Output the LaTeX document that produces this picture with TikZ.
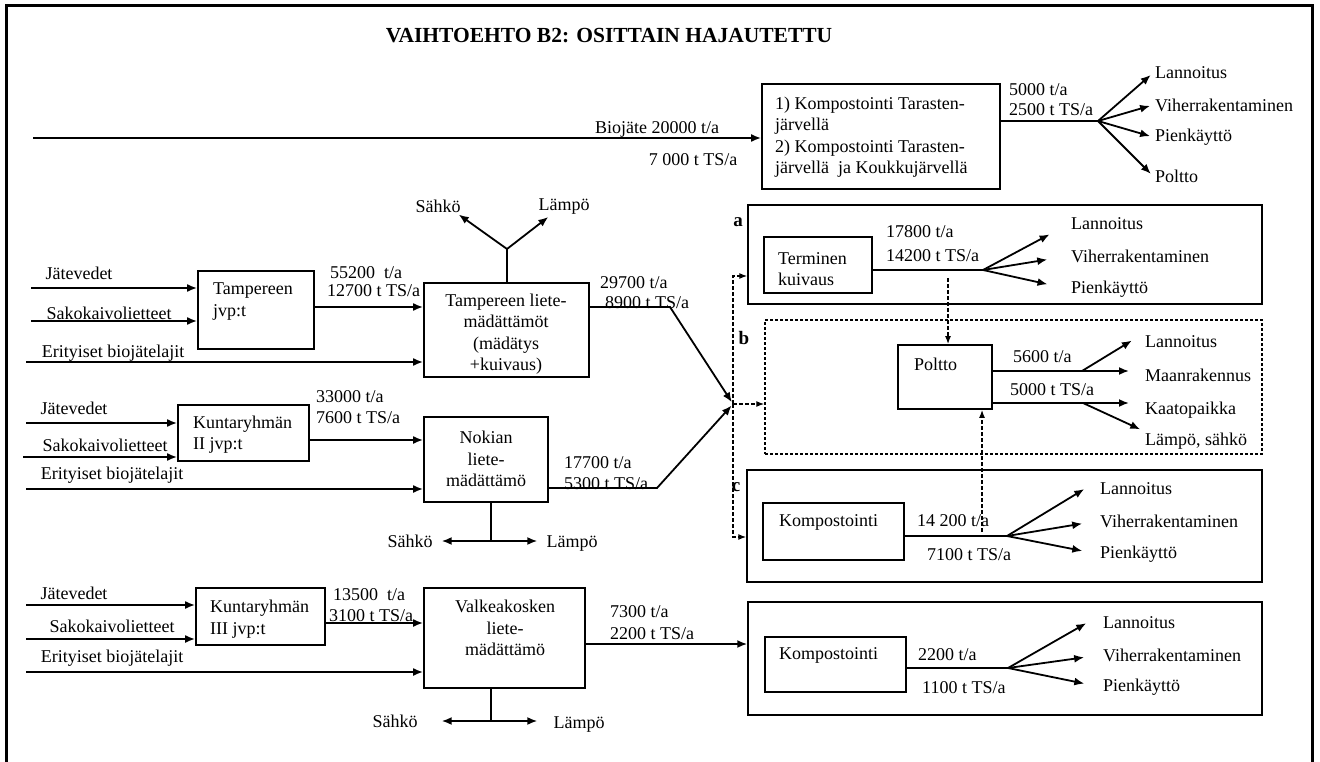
\documentclass[tikz,border=0pt]{standalone}
\usepackage{fontspec}
\setmainfont{Liberation Serif}
\usetikzlibrary{arrows.meta,calc,positioning}

\tikzset{
  box/.style={draw,line width=1.8pt,inner sep=0pt},
  grp/.style={draw,line width=1.5pt,inner sep=0pt},
  txt/.style={inner sep=2pt,font=\fontsize{18}{21.5}\selectfont,align=left},
  ctxt/.style={txt,align=center},
  tag/.style={inner sep=0pt,font=\fontsize{19}{22}\selectfont\bfseries},
  pipe/.style={line width=1.8pt},
  flow/.style={pipe,-{Latex[length=10pt,width=8pt]}},
  both/.style={pipe,{Latex[length=10pt,width=8pt]}-{Latex[length=10pt,width=8pt]}},
  dflow/.style={line width=1.3pt,dash pattern=on 4pt off 2pt,-{Latex[length=8pt,width=6pt]}}
}

\begin{document}
\begin{tikzpicture}[x=1pt,y=-1pt]
\useasboundingbox (0,0) rectangle (1320,762);
\draw[line width=3pt] (6,6) rectangle (1312,790);
\node[font=\fontsize{21.5}{26}\selectfont\bfseries] (title) at (609,36) {VAIHTOEHTO B2: OSITTAIN HAJAUTETTU};
% ==========================================
% biojate
\node[box,minimum width=238pt,minimum height=105pt] (komp1) at (881,136.5) {};
\node[txt,anchor=west] (komp1t) at (773,137) {1) Kompostointi Tarasten-\\järvellä\\2) Kompostointi Tarasten-\\järvellä\ \ ja Koukkujärvellä};
\coordinate (bio) at (33,138);
\draw[flow] (bio) -- (bio -| komp1.west);
\node[txt] (bio1) at (657,129) {Biojäte 20000 t/a};
\node[txt] (bio2) at (693,160) {7 000 t TS/a};
\coordinate (f1) at (1098,121);
\draw[pipe] (f1 -| komp1.east) -- (f1);
\node[txt,anchor=west] (m1a) at (1007,90) {5000 t/a};
\node[txt,anchor=west] (m1b) at (1007,110) {2500 t TS/a};
\node[txt,anchor=west] (lan1) at (1153,73) {Lannoitus};
\node[txt,anchor=west] (vih1) at (1153,105) {Viherrakentaminen};
\node[txt,anchor=west] (pie1) at (1153,137) {Pienkäyttö};
\node[txt,anchor=west] (pol1) at (1153,176) {Poltto};
\foreach \t in {lan1,vih1,pie1,pol1}
  \draw[flow,shorten >=3pt] (f1) -- (\t.west);
% ==========================================
% Tampere
\node[box,minimum width=116pt,minimum height=78pt] (tjvp) at (256,310) {};
\node[txt,anchor=west] (tjvpt) at (211,301.5) {Tampereen\\jvp:t};
\node[box,minimum width=165pt,minimum height=94pt] (tliete) at (506.5,330) {};
\node[ctxt] (tlietet) at (506,334) {Tampereen liete-\\mädättämöt\\(mädätys\\+kuivaus)};
\node[txt] (jv1) at (79,273) {Jätevedet};
\node[txt] (sk1) at (109,313) {Sakokaivolietteet};
\node[txt] (er1) at (113,353) {Erityiset biojätelajit};
\coordinate (jv1s) at (31,288);
\coordinate (sk1s) at (31,321);
\coordinate (er1s) at (26,362);
\draw[flow] (jv1s) -- (jv1s -| tjvp.west);
\draw[flow] (sk1s) -- (sk1s -| tjvp.west);
\draw[flow] (er1s) -- (er1s -| tliete.west);
\coordinate (t1o) at ([yshift=3pt]tjvp.east);
\draw[flow] (t1o) -- (t1o -| tliete.west);
\node[txt,anchor=west] (m2a) at (328,273) {55200\ \ t/a};
\node[txt,anchor=west] (m2b) at (325,291) {12700 t TS/a};
% Y on top
\coordinate (ty) at (507,249);
\draw[pipe] (tliete.north -| ty) -- (ty);
\node[txt] (sah1) at (438,206) {Sähkö};
\node[txt] (lam1) at (564,207) {Lämpö};
\draw[flow] (ty) -- ([xshift=-4pt]sah1.south east);
\draw[flow] (ty) -- ([xshift=12pt]lam1.south west);
% to junction
\coordinate (tb) at (670,307);
\coordinate (J) at (733,404);
\node[txt,anchor=west] (m3a) at (598,283) {29700 t/a};
\node[txt,anchor=west] (m3b) at (603,303) {8900 t TS/a};
\draw[flow,shorten >=2pt] (tb -| tliete.east) -- (tb) -- (J);
% ==========================================
% Nokia
\node[box,minimum width=124pt,minimum height=85pt] (nok) at (486,459.5) {};
\node[ctxt] (nokt) at (486,459) {Nokian\\liete-\\mädättämö};
\node[box,minimum width=131pt,minimum height=56pt] (k2) at (243.5,433) {};
\node[txt,anchor=west] (k2t) at (191,434.5) {Kuntaryhmän\\II jvp:t};
\node[txt] (jv2) at (74,408) {Jätevedet};
\node[txt] (sk2) at (105,445) {Sakokaivolietteet};
\node[txt] (er2) at (112,475) {Erityiset biojätelajit};
\coordinate (jv2s) at (26,423);
\coordinate (sk2s) at (23,457);
\coordinate (er2s) at (26,489);
\draw[flow] (jv2s) -- (jv2s -| k2.west);
\draw[flow] (sk2s) -- (sk2s -| k2.west);
\draw[flow] (er2s) -- (er2s -| nok.west);
\coordinate (k2o) at ([yshift=-7pt]k2.east);
\draw[flow] (k2o) -- (k2o -| nok.west);
\node[txt,anchor=west] (m4a) at (314,397) {33000 t/a};
\node[txt,anchor=west] (m4b) at (314,418) {7600 t TS/a};
\coordinate (nb) at (657,488);
\draw[flow,shorten >=2pt] (nb -| nok.east) -- (nb) -- (J);
\node[txt,anchor=west] (m5a) at (562,463) {17700 t/a};
\node[txt,anchor=west] (m5b) at (562,484) {5300 t TS/a};
\coordinate (ns) at (491,541);
\draw[pipe] (nok.south -| ns) -- (ns);
\node[txt] (sah2) at (410,541) {Sähkö};
\node[txt] (lam2) at (572,544) {Lämpö};
\draw[both,shorten <=7pt,shorten >=7pt] (sah2.east) -- (sah2.east -| lam2.west);
% ==========================================
% Valkeakoski
\node[box,minimum width=161pt,minimum height=100pt] (valk) at (504.5,638) {};
\node[ctxt] (valkt) at (505,628) {Valkeakosken\\liete-\\mädättämö};
\node[box,minimum width=129pt,minimum height=57pt] (k3) at (260.5,616.5) {};
\node[txt,anchor=west] (k3t) at (208,619) {Kuntaryhmän\\III jvp:t};
\node[txt] (jv3) at (74,593) {Jätevedet};
\node[txt] (sk3) at (112,626) {Sakokaivolietteet};
\node[txt] (er3) at (112,658) {Erityiset biojätelajit};
\coordinate (jv3s) at (26,605);
\coordinate (sk3s) at (26,639);
\coordinate (er3s) at (26,672);
\draw[flow] (jv3s) -- (jv3s -| k3.west);
\draw[flow] (sk3s) -- (sk3s -| k3.west);
\draw[flow] (er3s) -- (er3s -| valk.west);
\coordinate (k3o) at ([yshift=-6.5pt]k3.east);
\draw[flow] (k3o) -- (k3o -| valk.west);
\node[txt,anchor=west] (m6a) at (331,595) {13500\ \ t/a};
\node[txt,anchor=west] (m6b) at (327,616) {3100 t TS/a};
\coordinate (vs) at (491,721);
\draw[pipe] (valk.south -| vs) -- (vs);
\node[txt] (sah3) at (395,721) {Sähkö};
\node[txt] (lam3) at (579,725) {Lämpö};
\draw[both,shorten <=22pt,shorten >=14pt] (sah3.east) -- (sah3.east -| lam3.west);
% ==========================================
% a, b, c and the last one
\node[grp,minimum width=514pt,minimum height=99pt] (boxa) at (1005,254.5) {};
\node[grp,densely dashed,minimum width=497pt,minimum height=134pt] (boxb) at (1013.5,387) {};
\node[grp,minimum width=515pt,minimum height=112pt] (boxc) at (1004.5,526) {};
\node[grp,minimum width=514pt,minimum height=113pt] (boxd) at (1005,658.5) {};
\node[tag] (taga) at (738,222) {a};
\node[tag] (tagb) at (744,338) {b};
\node[tag] (tagc) at (736,487) {c};
\coordinate (ya) at (0,276);
\coordinate (yc) at (0,537);
\draw[dflow] (J) |- (boxa.west |- ya);%Arrow.
\draw[dflow] (J) -- (J -| boxb.west);%Arrow.
\draw[dflow] (J) |- (boxc.west |- yc);%Arrow.
% a
\node[box,minimum width=108pt,minimum height=56pt] (term) at (818,265) {};
\node[txt,anchor=west] (termt) at (776,269) {Terminen\\kuivaus};
\coordinate (f2) at (983,270);
\draw[pipe] (f2 -| term.east) -- (f2);
\node[txt,anchor=west] (m7a) at (884,232) {17800 t/a};
\node[txt,anchor=west] (m7b) at (884,256) {14200 t TS/a};
\node[txt,anchor=west] (lan2) at (1069,224) {Lannoitus};
\node[txt,anchor=west] (vih2) at (1069,256) {Viherrakentaminen};
\node[txt,anchor=west] (pie2) at (1069,289) {Pienkäyttö};
\foreach \t in {lan2,vih2,pie2}
  \draw[flow,shorten >=22pt] (f2) -- (\t.west);
\coordinate (tk) at (948,278);
% b
\node[box,minimum width=94pt,minimum height=64pt] (polb) at (945,377) {};
\node[txt,anchor=west] (polt) at (912,364) {Poltto};
\draw[dflow] (tk) -- (tk |- polb.north);
\node[txt,anchor=west] (m8a) at (1011,357) {5600 t/a};
\node[txt,anchor=west] (m8b) at (1008,390) {5000 t TS/a};
\node[txt,anchor=west] (lan5) at (1143,342) {Lannoitus};
\node[txt,anchor=west] (mrk) at (1143,375) {Maanrakennus};
\node[txt,anchor=west] (kaa) at (1143,410) {Kaatopaikka};
\node[txt,anchor=west] (lsa) at (1143,441) {Lämpö, sähkö};
\coordinate (p1) at (1082,371);
\coordinate (p2) at (1083,403);
\draw[flow,shorten >=14pt] (p1 -| polb.east) -- (p1 -| mrk.west);
\draw[flow,shorten >=13pt] (p1) -- (lan5.north west);
\draw[flow,shorten >=14pt] (p2 -| polb.east) -- (p2 -| kaa.west);
\draw[flow,shorten >=3pt] (p2) -- (lsa.north west);
% c
\node[box,minimum width=141pt,minimum height=57pt] (kompc) at (833.5,531.5) {};
\node[txt,anchor=west] (kompct) at (777,522) {Kompostointi};
\coordinate (kc) at (982,532);
\draw[dflow] (kc) -- (kc |- polb.south);
\coordinate (f3) at (1007,536);
\draw[pipe] (f3 -| kompc.east) -- (f3);
\node[txt,anchor=west] (m9a) at (915,521) {14 200 t/a};
\node[txt,anchor=west] (m9b) at (925,555) {7100 t TS/a};
\node[txt,anchor=west] (lan3) at (1098,489) {Lannoitus};
\node[txt,anchor=west] (vih3) at (1098,521) {Viherrakentaminen};
\node[txt,anchor=west] (pie3) at (1098,554) {Pienkäyttö};
\draw[flow,shorten >=16pt] (f3) -- (lan3.north west);
\draw[flow,shorten >=16pt] (f3) -- (vih3.west);
\draw[flow,shorten >=16pt] (f3) -- (pie3.west);
% last
\coordinate (vo) at ([yshift=-6pt]valk.east);
\draw[flow] (vo) -- (vo -| boxd.west);
\node[txt,anchor=west] (m10a) at (608,612) {7300 t/a};
\node[txt,anchor=west] (m10b) at (608,634) {2200 t TS/a};
\node[box,minimum width=141pt,minimum height=55pt] (kompd) at (835.5,664.5) {};
\node[txt,anchor=west] (kompdt) at (777,655) {Kompostointi};
\coordinate (f4) at (1008,668);
\draw[pipe] (f4 -| kompd.east) -- (f4);
\node[txt,anchor=west] (m11a) at (916,655) {2200 t/a};
\node[txt,anchor=west] (m11b) at (920,688) {1100 t TS/a};
\node[txt,anchor=west] (lan4) at (1101,623) {Lannoitus};
\node[txt,anchor=west] (vih4) at (1101,655) {Viherrakentaminen};
\node[txt,anchor=west] (pie4) at (1101,687) {Pienkäyttö};
\draw[flow,shorten >=17pt] (f4) -- (lan4.north west);
\draw[flow,shorten >=17pt] (f4) -- (vih4.west);
\draw[flow,shorten >=17pt] (f4) -- (pie4.west);
% =============================================
\end{tikzpicture}
\end{document}
